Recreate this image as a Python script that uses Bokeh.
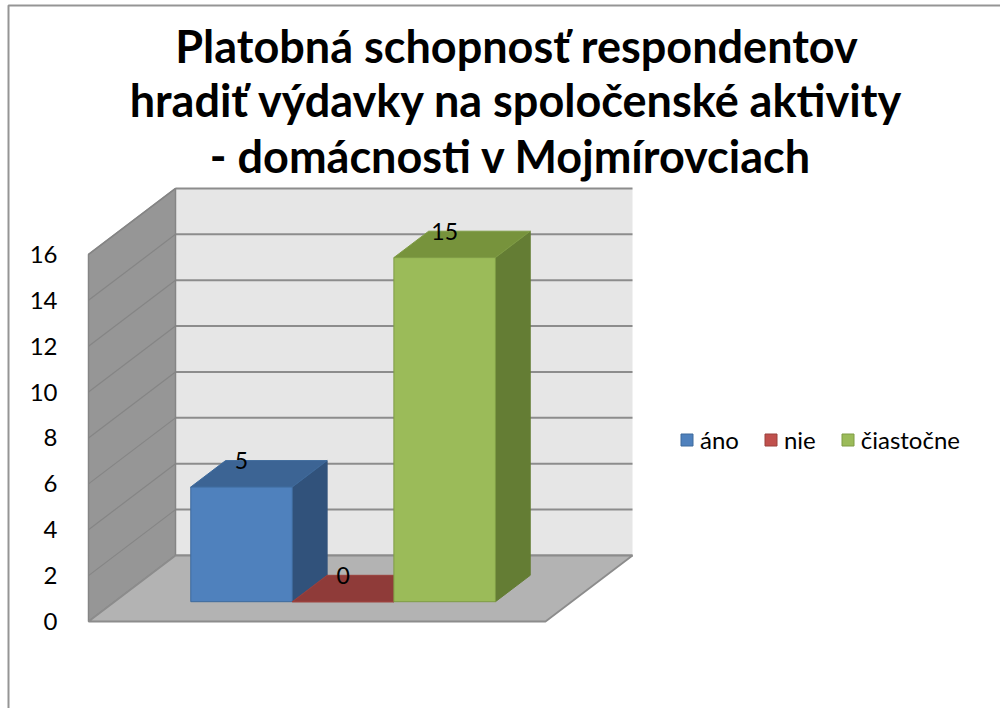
from bokeh.plotting import figure
from bokeh.models import Range1d, FixedTicker, Legend, LegendItem
from bokeh.core.properties import value
from bokeh.embed import file_html
from bokeh.resources import INLINE

# ---------------- data ----------------
title_lines = [
    "Platobná schopnosť respondentov",
    "hradiť výdavky na spoločenské aktivity",
    "-  domácnosti v Mojmírovciach",
]
series_names = ["áno", "nie", "čiastočne"]
series_values = [5, 0, 15]
y_ticks = [0, 2, 4, 6, 8, 10, 12, 14, 16]
y_max = 16

# ---------------- styles ----------------
front_colors = ["#4f81bd", "#c0504d", "#9bbb59"]
top_colors = ["#3c6494", "#8f3b39", "#77933c"]
side_colors = ["#31527b", "#7a2f2d", "#647d34"]
edge_colors = ["#3e6a9c", "#9a403d", "#7f9c45"]
FONT = "Lato"

# ---------------- layout (page pixels) ----------------
W, H = 1000, 708
OFF = 0
FRONT_LEFT, FRONT_RIGHT = 88, 545
ZERO_Y = 621
PX_PER_UNIT = 22.94
DEPTH_DX_PX, DEPTH_DY_PX = 87, 66
GAP_WIDTH = 1.5
D0, D1 = 0.3, 0.7

px_per_x = FRONT_RIGHT - FRONT_LEFT
DX = DEPTH_DX_PX / px_per_x
DY = DEPTH_DY_PX / PX_PER_UNIT


def page_x(px):
    return (px - FRONT_LEFT) / px_per_x


def page_y(py):
    return (ZERO_Y - py) / PX_PER_UNIT


def proj(x, v, d):
    return (x + d * DX, v + d * DY)


def poly(points):
    xs = [pt[0] for pt in points]
    ys = [pt[1] for pt in points]
    return xs, ys


p = figure(
    width=W, height=H,
    x_range=Range1d(page_x(OFF), page_x(OFF + W)),
    y_range=Range1d(page_y(OFF + H), page_y(OFF)),
    x_axis_type=None,
    output_backend="svg", toolbar_location=None,
    min_border=0,
)
p.outline_line_color = None
p.ygrid.grid_line_color = None
p.background_fill_color = "white"
p.border_fill_color = "white"

# y axis drawn at the front-left edge of the 3D box
yax = p.yaxis[0]
yax.fixed_location = 0
yax.ticker = FixedTicker(ticks=y_ticks)
yax.axis_line_color = None
yax.major_tick_line_color = None
yax.minor_tick_line_color = None
yax.major_label_standoff = 25
yax.major_label_text_font = FONT
yax.major_label_text_font_size = "24px"
yax.major_label_text_color = "#000000"

# ---------------- walls ----------------
bx, by = poly([proj(0, 0, 1), proj(1, 0, 1), proj(1, y_max, 1), proj(0, y_max, 1)])
p.patch(bx, by, fill_color="#e6e6e6", line_color=None)
p.segment(
    x0=[proj(0, t, 1)[0] for t in y_ticks], y0=[proj(0, t, 1)[1] for t in y_ticks],
    x1=[proj(1, t, 1)[0] for t in y_ticks], y1=[proj(1, t, 1)[1] for t in y_ticks],
    line_color="#8c8c8c", line_width=2,
)
lx, ly = poly([proj(0, 0, 0), proj(0, y_max, 0), proj(0, y_max, 1), proj(0, 0, 1)])
p.patch(lx, ly, fill_color="#969696", line_color="#858585", line_width=1.5)
p.segment(
    x0=[proj(0, t, 0)[0] for t in y_ticks], y0=[proj(0, t, 0)[1] for t in y_ticks],
    x1=[proj(0, t, 1)[0] for t in y_ticks], y1=[proj(0, t, 1)[1] for t in y_ticks],
    line_color="#858585", line_width=1.2,
)
fx, fy = poly([proj(0, 0, 0), proj(1, 0, 0), proj(1, 0, 1), proj(0, 0, 1)])
p.patch(fx, fy, fill_color="#b3b3b3", line_color="#8c8c8c", line_width=1.8)

# ---------------- bars ----------------
n = len(series_values)
bar_w = 1.0 / (n + GAP_WIDTH)
start = GAP_WIDTH * bar_w / 2
legend_items = []
for i, (name, val) in enumerate(zip(series_names, series_values)):
    x0 = start + i * bar_w
    x1 = x0 + bar_w
    sx, sy = poly([proj(x1, 0, D0), proj(x1, 0, D1), proj(x1, val, D1), proj(x1, val, D0)])
    p.patch(sx, sy, fill_color=side_colors[i], line_color=side_colors[i], line_width=1)
    tx, ty = poly([proj(x0, val, D0), proj(x1, val, D0), proj(x1, val, D1), proj(x0, val, D1)])
    p.patch(tx, ty, fill_color=top_colors[i], line_color=edge_colors[i], line_width=1)
    fx_, fy_ = poly([proj(x0, 0, D0), proj(x1, 0, D0), proj(x1, val, D0), proj(x0, val, D0)])
    r = p.patch(fx_, fy_, fill_color=front_colors[i], line_color=edge_colors[i], line_width=1)
    legend_items.append(LegendItem(label=name, renderers=[r]))
    lx_, _ = proj((x0 + x1) / 2, val, D0)
    _, ly_ = proj((x0 + x1) / 2, val, D1)
    p.text(x=[lx_], y=[ly_], text=[str(val)], text_font=value(FONT),
           text_font_size="23px", text_color="#000000",
           text_align="center", text_baseline="middle")

# ---------------- legend ----------------
legend = Legend(
    items=legend_items, orientation="horizontal",
    location=(679, 254),
    glyph_width=15, glyph_height=15, label_standoff=6, spacing=24,
    padding=0, margin=0, label_height=20,
    label_text_font=FONT, label_text_font_size="24px", label_text_color="#000000",
    background_fill_alpha=0, border_line_color=None,
)
p.add_layout(legend)

# ---------------- title ----------------
title_baselines = [45, 99, 155]
p.text(
    x=[page_x(516)] * 3, y=[page_y(b) for b in title_baselines], text=title_lines,
    text_font=value(FONT), text_font_style="bold", text_font_size="45px",
    text_color="#000000", text_align="center", text_baseline="alphabetic",
)

# ---------------- chart border (left and top) ----------------
p.line([page_x(8), page_x(8), page_x(OFF + W)], [page_y(OFF + H), page_y(5), page_y(5)],
       line_color="#959595", line_width=2)

open("out.html", "w").write(file_html(p, INLINE))
